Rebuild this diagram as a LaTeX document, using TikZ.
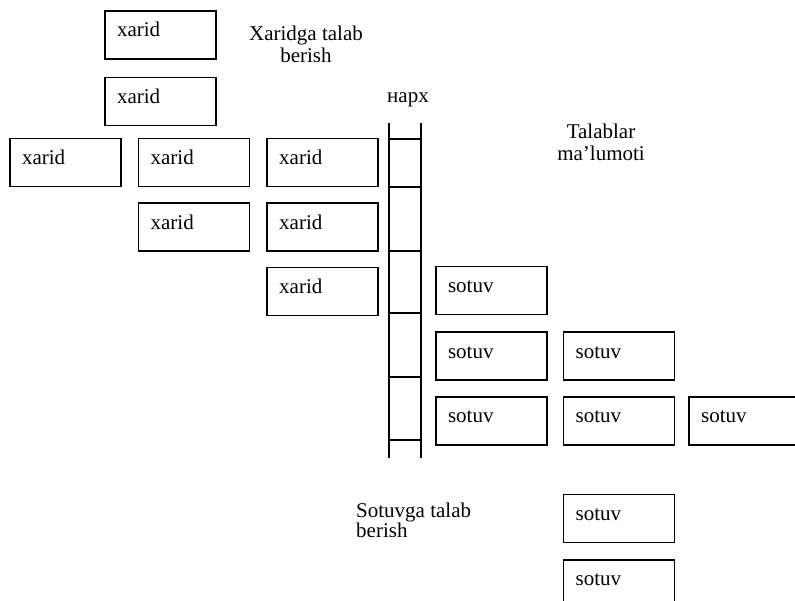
\documentclass[tikz,border=0pt]{standalone}
\usepackage{fontspec}
\setmainfont{Liberation Serif}
\usetikzlibrary{positioning}
\newcommand{\diagfont}{\fontsize{21}{22}\selectfont}
\tikzstyle{xaridbox} = [rectangle, draw=black, line width=1.6pt, minimum width=111pt, minimum height=48pt, inner xsep=12pt, inner ysep=0pt, text width=87pt, align=left, text height=14pt, text depth=10pt, font=\diagfont]
\tikzstyle{sotuvbox} = [xaridbox]
\tikzstyle{caption} = [inner sep=0pt, font=\diagfont]
\tikzstyle{rail} = [line width=1.6pt]

\begin{document}
\begin{tikzpicture}[x=1pt, y=-1pt]
    \useasboundingbox (0,0) rectangle (795,601);

    % xarid
    \node (xarid_1) [xaridbox] at (160.5,35) {xarid};
    \node (xarid_2) [xaridbox, below=17pt of xarid_1] {xarid};
    \node (xarid_3) [xaridbox] at (65.5,162.5) {xarid};
    \node (xarid_4) [xaridbox, right=16pt of xarid_3] {xarid};
    \node (xarid_5) [xaridbox, right=16pt of xarid_4] {xarid};
    \node (xarid_6) [xaridbox, below=15pt of xarid_4] {xarid};
    \node (xarid_7) [xaridbox, below=15pt of xarid_5] {xarid};
    \node (xarid_8) [xaridbox, below=15pt of xarid_7] {xarid};

    % sotuv
    \node (sotuv_1) [sotuvbox] at (491.5,290.5) {sotuv};
    \node (sotuv_2) [sotuvbox, below=16pt of sotuv_1] {sotuv};
    \node (sotuv_3) [sotuvbox, right=15pt of sotuv_2] {sotuv};
    \node (sotuv_4) [sotuvbox, below=15pt of sotuv_2] {sotuv};
    \node (sotuv_5) [sotuvbox, right=15pt of sotuv_4] {sotuv};
    \node (sotuv_6) [sotuvbox, right=13pt of sotuv_5, text width=84pt, minimum width=108pt] {sotuv};
    \node (sotuv_7) [sotuvbox, below=48pt of sotuv_5] {sotuv};
    \node (sotuv_8) [sotuvbox, below=16pt of sotuv_7] {sotuv};

    % narx
    \draw [rail] (389,123) -- (389,458);
    \draw [rail] (421,123) -- (421,458);
    \foreach \y in {139,187,251,313,377,440}
        \draw [rail] (389,\y) -- (421,\y);

    \node (narx) [caption, anchor=base west] at (387,103) {нарх};
    \node (xaridga_talab) [caption, anchor=north, align=center] at (306,25.5) {Xaridga talab\\berish};
    \node (talablar) [caption, anchor=north, align=center] at (601,123.5) {Talablar\\ma’lumoti};
    \node (sotuvga_talab) [caption, anchor=north west, align=left, font=\fontsize{21}{20}\selectfont] at (356,502.5) {Sotuvga talab\\berish};

\end{tikzpicture}
\end{document}
